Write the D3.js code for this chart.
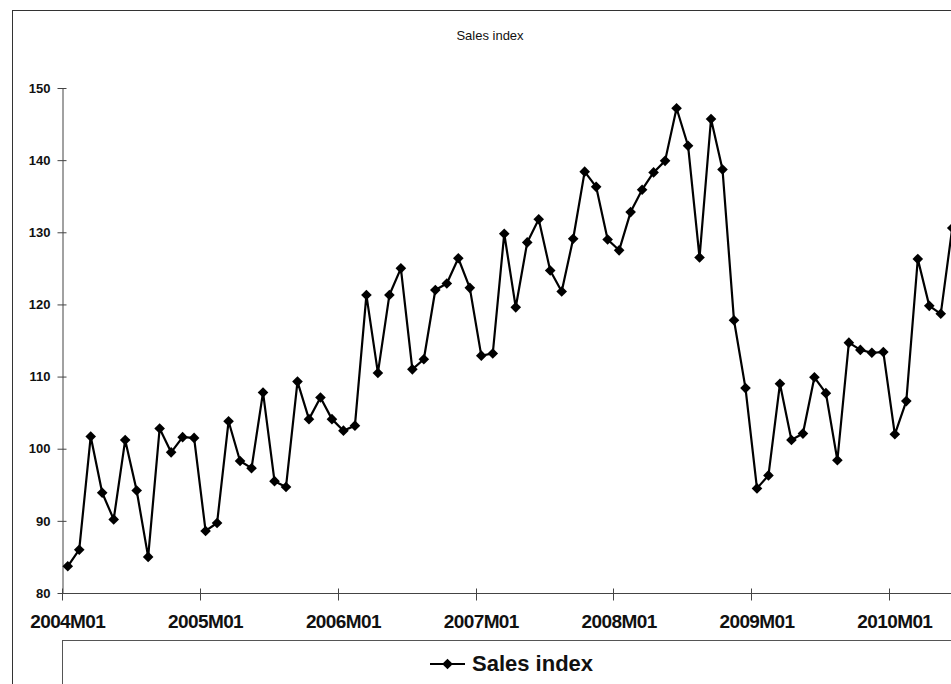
<!DOCTYPE html>
<html>
<head>
<meta charset="utf-8">
<script src="https://cdn.jsdelivr.net/npm/d3@7"></script>
<style>
  html, body { margin: 0; padding: 0; background: #fff; overflow: hidden; }
  svg { display: block; font-family: "Liberation Sans", Arial, sans-serif; }
</style>
</head>
<body>
<svg id="chart" width="951" height="684"></svg>
<script>
// Monthly sales index, 2004M01 – 2010M06
const years = [2004, 2005, 2006, 2007, 2008, 2009, 2010];
const lastMonthOfFinalYear = 6;
const salesIndex = [
  83.7, 86.0, 101.7, 93.9, 90.2, 101.2, 94.2, 85.0, 102.8, 99.5, 101.6, 101.5,
  88.6, 89.7, 103.8, 98.3, 97.3, 107.8, 95.5, 94.7, 109.3, 104.1, 107.1, 104.1,
  102.5, 103.2, 121.3, 110.5, 121.3, 125.0, 111.0, 112.4, 122.0, 122.9, 126.4, 122.3,
  112.9, 113.2, 129.8, 119.6, 128.6, 131.8, 124.7, 121.8, 129.1, 138.4, 136.3, 129.0,
  127.5, 132.8, 135.9, 138.3, 139.9, 147.2, 142.0, 126.5, 145.7, 138.7, 117.8, 108.4,
  94.5, 96.3, 109.0, 101.2, 102.1, 109.9, 107.7, 98.4, 114.7, 113.7, 113.3, 113.4,
  102.0, 106.6, 126.3, 119.8, 118.7, 130.6
];
const yTicks = [80, 90, 100, 110, 120, 130, 140, 150];
const seriesName = "Sales index";

// category labels such as "2004M01"
const categories = [];
years.forEach((yr, i) => {
  const nMonths = i === years.length - 1 ? lastMonthOfFinalYear : 12;
  for (let m = 1; m <= nMonths; m++) categories.push(yr + "M" + String(m).padStart(2, "0"));
});
const yearTickLabels = years.map(yr => yr + "M01");

const data = categories.map((c, i) => ({ cat: c, value: salesIndex[i] }));

const svg = d3.select("#chart");
const plot = { left: 62, right: 958, top: 88, bottom: 593 };

// chart frame (extends past the right and bottom edges of the view)
svg.append("rect")
  .attr("x", 12.5).attr("y", 10.5)
  .attr("width", 956).attr("height", 700)
  .attr("fill", "none").attr("stroke", "#333").attr("stroke-width", 1);

svg.append("text")
  .attr("x", 490).attr("y", 40)
  .attr("text-anchor", "middle")
  .attr("font-size", 13)
  .attr("fill", "#111")
  .text(seriesName);

const x = d3.scaleBand().domain(categories).range([plot.left, plot.right]).padding(0);
const y = d3.scaleLinear().domain([80, 150]).range([plot.bottom, plot.top]);
const cx = d => x(d) + x.bandwidth() / 2;

// y axis
const yAxis = svg.append("g")
  .attr("transform", `translate(${plot.left + 0.5},0)`)
  .call(d3.axisLeft(y).tickValues(yTicks).tickSize(5).tickPadding(7).tickSizeOuter(0));
yAxis.select(".domain").attr("stroke", "#444");
yAxis.selectAll(".tick line").attr("x1", 4).attr("stroke", "#444");
yAxis.selectAll(".tick text")
  .attr("font-size", 13).attr("font-weight", "bold").attr("fill", "#111")
  .attr("font-family", "'Liberation Sans', Arial, sans-serif");

// x axis: ticks at category boundaries, labels centred on the category
const xAxis = svg.append("g").attr("transform", `translate(0,${plot.bottom + 0.5})`);
xAxis.append("line")
  .attr("x1", plot.left).attr("x2", plot.right)
  .attr("stroke", "#444");
xAxis.selectAll("line.tick")
  .data(yearTickLabels)
  .join("line")
  .attr("class", "tick")
  .attr("x1", d => Math.round(x(d)) + 0.5).attr("x2", d => Math.round(x(d)) + 0.5)
  .attr("y1", -5).attr("y2", 7)
  .attr("stroke", "#444");
xAxis.selectAll("text")
  .data(yearTickLabels)
  .join("text")
  .attr("x", d => cx(d))
  .attr("y", 34.5)
  .attr("text-anchor", "middle")
  .attr("font-size", 19)
  .attr("font-weight", "bold")
  .attr("letter-spacing", "-0.6")
  .attr("fill", "#111")
  .text(d => d);

// series line and diamond markers
const line = d3.line().x(d => cx(d.cat)).y(d => y(d.value));
svg.append("path")
  .datum(data)
  .attr("d", line)
  .attr("fill", "none")
  .attr("stroke", "#000")
  .attr("stroke-width", 2.2)
  .attr("stroke-linejoin", "round");

const diamond = d3.symbol().type(d3.symbolDiamond2).size(72);
svg.selectAll("path.marker")
  .data(data)
  .join("path")
  .attr("class", "marker")
  .attr("transform", d => `translate(${cx(d.cat)},${y(d.value)})`)
  .attr("d", diamond)
  .attr("fill", "#000");

// legend box
const legend = svg.append("g");
legend.append("rect")
  .attr("x", plot.left + 0.5).attr("y", 640.5)
  .attr("width", plot.right - plot.left).attr("height", 80)
  .attr("fill", "none").attr("stroke", "#555");
legend.append("line")
  .attr("x1", 430).attr("x2", 465).attr("y1", 664).attr("y2", 664)
  .attr("stroke", "#000").attr("stroke-width", 2.2);
legend.append("path")
  .attr("transform", "translate(447.5,664)")
  .attr("d", diamond)
  .attr("fill", "#000");
legend.append("text")
  .attr("x", 472).attr("y", 671)
  .attr("font-size", 22)
  .attr("font-weight", "bold")
  .attr("fill", "#111")
  .text(seriesName);
</script>
</body>
</html>
